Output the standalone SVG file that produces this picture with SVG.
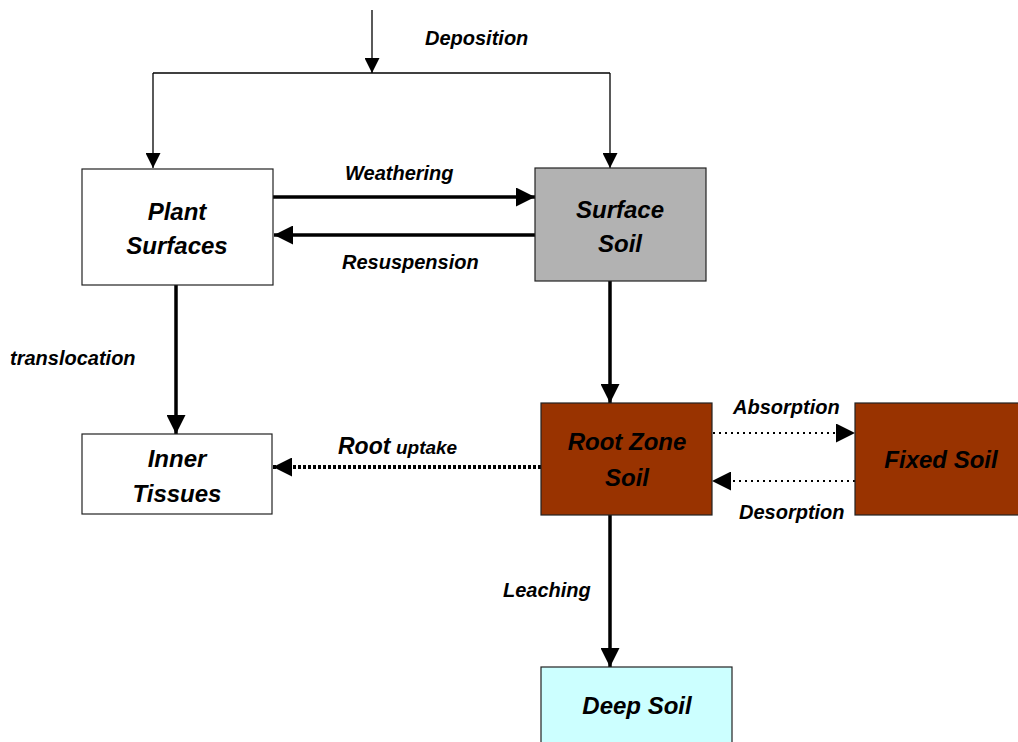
<svg xmlns="http://www.w3.org/2000/svg" width="1018" height="742" viewBox="0 0 1018 742">
<style>
.box{stroke:#222;stroke-width:1.2}
.nt{font-family:"Liberation Sans",Arial,sans-serif;font-weight:bold;font-style:italic;font-size:24px;text-anchor:middle;fill:#000}
.lb{font-family:"Liberation Sans",Arial,sans-serif;font-weight:bold;font-style:italic;font-size:20px;fill:#000}
.thin{stroke:#000;stroke-width:1.3;fill:none}
.thick{stroke:#000;stroke-width:3.5;fill:none}
.dotw{stroke:#000;stroke-width:4;fill:none;stroke-dasharray:3 2}
.dott{stroke:#000;stroke-width:2;fill:none;stroke-dasharray:2 4}
</style>
<defs>
<marker id="ah" viewBox="0 0 10 10" refX="10" refY="5" markerWidth="19" markerHeight="19" markerUnits="userSpaceOnUse" orient="auto"><path d="M0,0 L10,5 L0,10 Z" fill="#000"/></marker>
<marker id="as" viewBox="0 0 10 10" refX="10" refY="5" markerWidth="15" markerHeight="15" markerUnits="userSpaceOnUse" orient="auto"><path d="M0,0 L10,5 L0,10 Z" fill="#000"/></marker>
</defs>
<rect width="1018" height="742" fill="#fff"/>
<g id="connectors">
<line class="thin" x1="372" y1="10" x2="372" y2="73" marker-end="url(#as)"/>
<polyline class="thin" points="153,73 610,73"/>
<line class="thin" x1="153" y1="73" x2="153" y2="168" marker-end="url(#as)"/>
<line class="thin" x1="610" y1="73" x2="610" y2="168" marker-end="url(#as)"/>
<line class="thick" x1="273" y1="197" x2="535" y2="197" marker-end="url(#ah)"/>
<line class="thick" x1="535" y1="235" x2="274" y2="235" marker-end="url(#ah)"/>
<line class="thick" x1="610" y1="281" x2="610" y2="403" marker-end="url(#ah)"/>
<line class="thick" x1="176" y1="285" x2="176" y2="434" marker-end="url(#ah)"/>
<line class="dotw" x1="541" y1="467" x2="273" y2="467" marker-end="url(#ah)"/>
<line class="dott" x1="713" y1="433" x2="855" y2="433" marker-end="url(#ah)"/>
<line class="dott" x1="855" y1="481" x2="712" y2="481" marker-end="url(#ah)"/>
<line class="thick" x1="610" y1="515" x2="610" y2="667" marker-end="url(#ah)"/>
<text class="lb" x="425" y="45">Deposition</text>
<text class="lb" x="345" y="180">Weathering</text>
<text class="lb" x="342" y="269">Resuspension</text>
<text class="lb" x="10" y="365">translocation</text>
<text class="lb" x="338" y="454"><tspan font-size="23">Root</tspan> <tspan font-size="19">uptake</tspan></text>
<text class="lb" x="733" y="414">Absorption</text>
<text class="lb" x="739" y="519">Desorption</text>
<text class="lb" x="503" y="597">Leaching</text>
</g>
<g id="plant-surfaces">
<rect class="box" x="82" y="169" width="191" height="116" fill="#fff"/>
<text class="nt" x="177" y="220">Plant</text>
<text class="nt" x="177" y="254">Surfaces</text>
</g>
<g id="surface-soil">
<rect class="box" x="535" y="168" width="171" height="113" fill="#b2b2b2"/>
<text class="nt" x="620" y="218">Surface</text>
<text class="nt" x="620" y="252">Soil</text>
</g>
<g id="inner-tissues">
<rect class="box" x="82" y="434" width="190" height="80" fill="#fff"/>
<text class="nt" x="177" y="467">Inner</text>
<text class="nt" x="177" y="502">Tissues</text>
</g>
<g id="root-zone-soil">
<rect class="box" x="541" y="403" width="171" height="112" fill="#993300"/>
<text class="nt" x="627" y="450">Root Zone</text>
<text class="nt" x="627" y="486">Soil</text>
</g>
<g id="fixed-soil">
<rect class="box" x="855" y="403" width="170" height="112" fill="#993300"/>
<text class="nt" x="941" y="468">Fixed Soil</text>
</g>
<g id="deep-soil">
<rect class="box" x="541" y="667" width="191" height="90" fill="#ccffff"/>
<text class="nt" x="637" y="714">Deep Soil</text>
</g>
</svg>
